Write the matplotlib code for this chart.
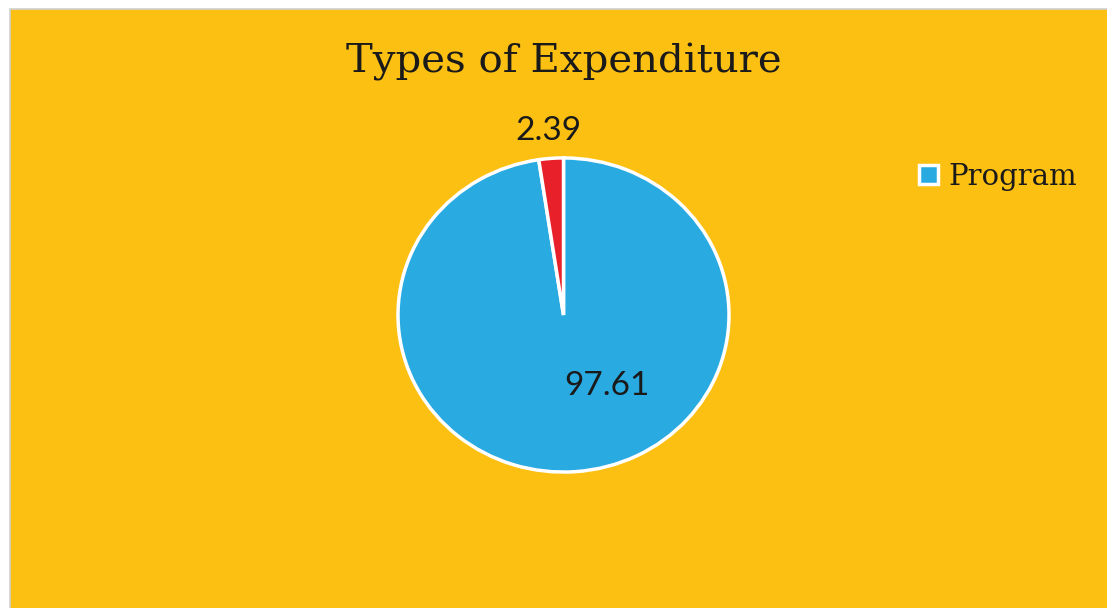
import matplotlib.pyplot as plt
from matplotlib.patches import Rectangle

categories = ['Program', 'Other']
values = [97.61, 2.39]
colors = ['#29abe2', '#e8202a']

W, H = 1107, 608
fig = plt.figure(figsize=(W / 100, H / 100), dpi=100)
fig.patch.set_facecolor('white')

# yellow chart area with a thin grey frame on the left/top
fig.patches.append(Rectangle((10 / W, -0.05), 1.1, 1.05 - 9 / H,
                             transform=fig.transFigure, facecolor='#fcc012',
                             edgecolor='#d0d0d0', linewidth=1.2, zorder=-5))

ax = fig.add_axes([397 / W, 1 - 473 / H, 333 / W, 316 / H])
ax.set_zorder(2)
ax.set_facecolor('none')
wedges, _ = ax.pie(values, colors=colors, startangle=90, counterclock=False,
                   radius=1.0, wedgeprops=dict(edgecolor='white', linewidth=2.5))
ax.set_aspect('auto')
ax.set_xlim(-1.006, 1.006)
ax.set_ylim(-1.006, 1.006)
ax.axis('off')

lab_font = dict(family=['Lato', 'DejaVu Sans'], fontsize=24, color='#1a1a1a',
                ha='center', va='center')
ax.text(0.26, -0.455, f'{values[0]:.2f}', **lab_font)
ax.text(-0.093, 1.17, f'{values[1]:.2f}', clip_on=False, **lab_font)

fig.text(564 / W, 1 - 62 / H, 'Types of Expenditure', ha='center', va='center',
         family='DejaVu Serif', fontsize=29, color='#1a1a1a', zorder=3)

leg = fig.legend([wedges[0]], [categories[0]], loc='center left',
                 bbox_to_anchor=(893 / W, 1 - 177 / H), frameon=False,
                 handlelength=0.65, handleheight=0.65, handletextpad=0.35,
                 prop=dict(family='DejaVu Serif', size=21))
for t in leg.get_texts():
    t.set_color('#1a1a1a')

fig.savefig('out.png', dpi=100, facecolor=fig.get_facecolor())
